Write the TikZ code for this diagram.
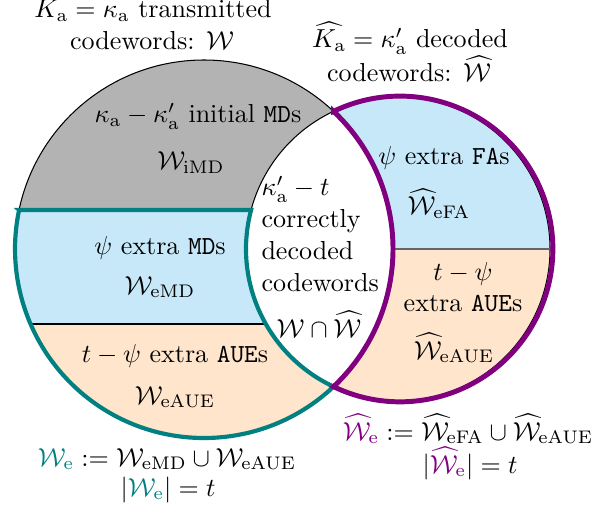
\documentclass[tikz,border=0pt]{standalone}
\usepackage{amsmath,amssymb}
\definecolor{mdblue}{RGB}{199,232,248}
\definecolor{aueorange}{RGB}{255,229,204}
\definecolor{imdgray}{RGB}{179,179,179}
\definecolor{ewteal}{RGB}{0,128,128}
\definecolor{ewpurple}{RGB}{128,0,128}

\begin{document}
\begin{tikzpicture}[
    x=0.0135cm, y=-0.0135cm,
    lbl/.style={anchor=base, inner sep=0pt},
    lens/.style={anchor=base west, inner sep=0pt},
    rim/.style={draw=black, line width=0.4pt},
    sep/.style={draw=#1, line width=0.6pt},
    tealrim/.style={draw=ewteal, line width=1.6pt, line join=miter},
    purprim/.style={draw=ewpurple, line width=1.9pt},
]
\useasboundingbox (0,0) rectangle (595,508);
\coordinate (L) at (204,249);
\coordinate (R) at (398,249);

% === FILLS ===
\begin{scope}
  \clip (L) circle[radius=189];
  \fill[imdgray] (0,0) rectangle (600,210);
  \fill[mdblue] (0,210) rectangle (600,324);
  \fill[aueorange] (0,324) rectangle (600,450);
\end{scope}
\begin{scope}
  \clip (R) circle[radius=152];
  \fill[mdblue] (230,80) rectangle (600,249);
  \fill[aueorange] (230,249) rectangle (600,420);
\end{scope}
\begin{scope}
  \clip (L) circle[radius=189];
  \fill[white] (R) circle[radius=152];
\end{scope}

% === OUTLINES ===
\draw[rim] (L) circle[radius=189];
\draw[rim] (R) circle[radius=152];
\draw[sep=black] (30.5,324) -- (266.4,324);
\draw[sep=black!60, line width=0.8pt] (393,249) -- (550,249);

% extra errors
\draw[tealrim] (19.07,210) -- (251.1,210)
  arc[start angle=194.87, end angle=115.10, radius=152]
  arc[start angle=46.74, end angle=191.91, radius=189] -- cycle;
\draw[purprim] (333.52,111.36)
  arc[start angle=-115.78, end angle=115.78, radius=152.85]
  arc[start angle=46.74, end angle=-46.74, radius=189] -- cycle;

% === LABELS ===
\node[lbl] (tx1) at (153,18) {$K_\mathrm{a} = \kappa_\mathrm{a}$ transmitted};
\node[lbl] (tx2) at (152,50) {codewords: $\mathcal{W}$};
\node[lbl] (dc1) at (410,48) {$\widehat{K_\mathrm{a}} = \kappa'_\mathrm{a}$ decoded};
\node[lbl] (dc2) at (409,82) {codewords: $\widehat{\mathcal{W}}$};

% left circle
\node[lbl] (imd) at (198,123) {$\kappa_\mathrm{a}-\kappa'_\mathrm{a}$ initial \texttt{MD}s};
\node[lbl] (wimd) at (191,170) {$\mathcal{W}_\mathrm{iMD}$};
\node[lbl] (emd) at (160,255) {$\psi$ extra \texttt{MD}s};
\node[lbl] (wemd) at (160,294) {$\mathcal{W}_\mathrm{eMD}$};
\node[lbl] (eaue) at (175,362) {$t-\psi$ extra \texttt{AUE}s};
\node[lbl] (weaue) at (175,404) {$\mathcal{W}_\mathrm{eAUE}$};

% intersection
\node[lens] (ok1) at (261,196) {$\kappa'_\mathrm{a}-t$};
\node[lens] (ok2) at (261,228) {correctly};
\node[lens] (ok3) at (261,260) {decoded};
\node[lens] (ok4) at (261,291) {codewords};
\node[lbl] (wcap) at (319,337) {$\mathcal{W}\cap\widehat{\mathcal{W}}$};

% right circle
\node[lbl] (efa) at (444,165) {$\psi$ extra \texttt{FA}s};
\node[lbl] (wefa) at (439,215) {$\widehat{\mathcal{W}}_\mathrm{eFA}$};
\node[lbl] (raue1) at (463,280) {$t-\psi$};
\node[lbl] (raue2) at (463,311) {extra \texttt{AUE}s};
\node[lbl] (wraue) at (454,359) {$\widehat{\mathcal{W}}_\mathrm{eAUE}$};

% unions
\node[lbl] (un1) at (167,466) {$\textcolor{ewteal}{\mathcal{W}_\mathrm{e}} := \mathcal{W}_\mathrm{eMD}\cup\mathcal{W}_\mathrm{eAUE}$};
\node[lbl] (un2) at (168,496) {$|\textcolor{ewteal}{\mathcal{W}_\mathrm{e}}| = t$};
\node[lbl] (hun1) at (468,440) {$\textcolor{ewpurple}{\widehat{\mathcal{W}}_\mathrm{e}} := \widehat{\mathcal{W}}_\mathrm{eFA}\cup\widehat{\mathcal{W}}_\mathrm{eAUE}$};
\node[lbl] (hun2) at (470,473) {$|\textcolor{ewpurple}{\widehat{\mathcal{W}}_\mathrm{e}}| = t$};

\end{tikzpicture}
\end{document}
